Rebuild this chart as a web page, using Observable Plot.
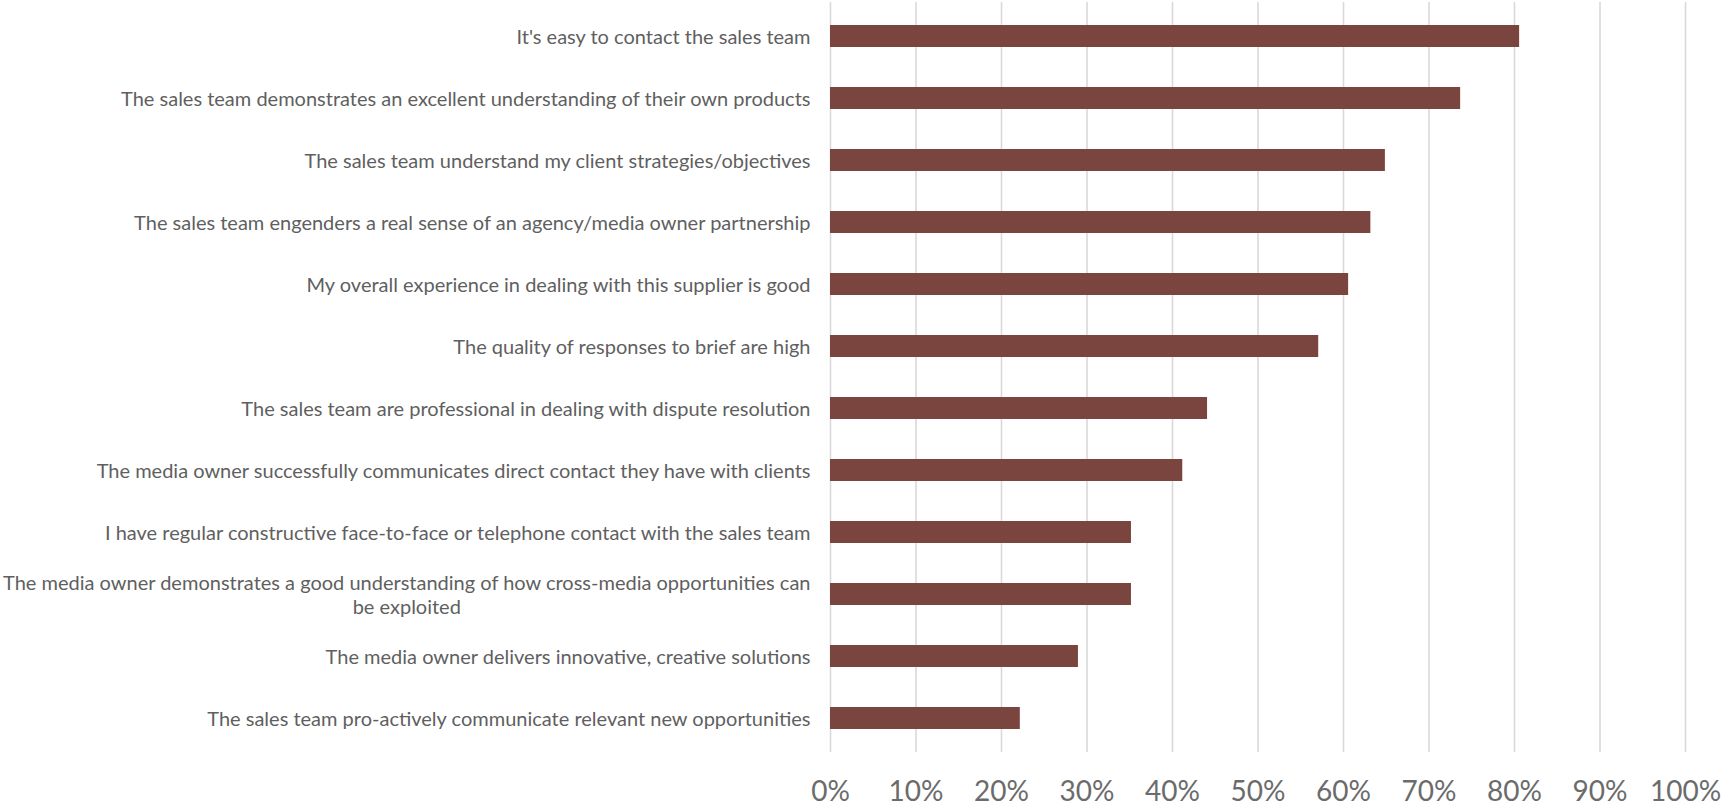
<!DOCTYPE html>
<html>
<head>
<meta charset="utf-8">
<script src="https://cdn.jsdelivr.net/npm/d3@7"></script>
<script src="https://cdn.jsdelivr.net/npm/@observablehq/plot@0.6"></script>
<style>
  html, body { margin: 0; padding: 0; background: #ffffff; }
  #chart svg { display: block; }
</style>
</head>
<body>
<div id="chart"></div>
<script>
const categories = [
  "It's easy to contact the sales team",
  "The sales team demonstrates an excellent understanding of their own products",
  "The sales team understand my client strategies/objectives",
  "The sales team engenders a real sense of an agency/media owner partnership",
  "My overall experience in dealing with this supplier is good",
  "The quality of responses to brief are high",
  "The sales team are professional in dealing with dispute resolution",
  "The media owner successfully communicates direct contact they have with clients",
  "I have regular constructive face-to-face or telephone contact with the sales team",
  "The media owner demonstrates a good understanding of how cross-media opportunities can\nbe exploited",
  "The media owner delivers innovative, creative solutions",
  "The sales team pro-actively communicate relevant new opportunities"
];
const values = [0.806, 0.737, 0.649, 0.632, 0.606, 0.571, 0.441, 0.412, 0.352, 0.352, 0.290, 0.222];
const xTicks = [0, 0.1, 0.2, 0.3, 0.4, 0.5, 0.6, 0.7, 0.8, 0.9, 1.0];

const data = categories.map((c, i) => ({category: c, value: values[i]}));

const chart = Plot.plot({
  width: 1722,
  height: 808,
  marginLeft: 830,
  marginRight: 37,
  marginTop: 2,
  marginBottom: 56,
  style: {fontFamily: "Lato, 'Open Sans', sans-serif", background: "#ffffff"},
  x: {domain: [0, 1]},
  y: {domain: categories, paddingInner: 0.648, paddingOuter: 0.324},
  marks: [
    Plot.gridX({ticks: xTicks, stroke: "#d9d9d9", strokeOpacity: 1, strokeWidth: 1.6}),
    Plot.barX(data, {x: "value", y: "category", fill: "#7a453f"}),
    Plot.axisY({tickSize: 0, tickPadding: 20, fontSize: 20, lineHeight: 1.2, fill: "#5f5f5f", lineWidth: Infinity, label: null}),
    Plot.axisX({ticks: xTicks, tickFormat: d3.format(".0%"), tickSize: 0, tickPadding: 29, fontSize: 28, fill: "#6b6b6b", label: null})
  ]
});
document.getElementById("chart").appendChild(chart);

// Center the lines of wrapped category labels (as the reference does)
chart.querySelectorAll("text").forEach(t => {
  const spans = t.querySelectorAll("tspan");
  if (spans.length > 1) {
    let L = 0;
    spans.forEach(s => { L = Math.max(L, s.getComputedTextLength()); });
    t.setAttribute("text-anchor", "middle");
    const tr = t.getAttribute("transform") || "";
    t.setAttribute("transform", tr + ` translate(${-L / 2},0)`);
  }
});
</script>
</body>
</html>
